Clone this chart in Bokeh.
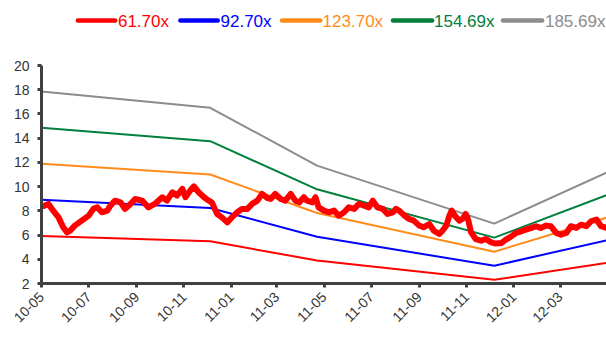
from math import pi

import pandas as pd
from bokeh.core.properties import value
from bokeh.embed import file_html
from bokeh.layouts import column
from bokeh.models import (ColumnDataSource, DatetimeTickFormatter, FixedTicker,
                          MonthsTicker, Range1d)
from bokeh.plotting import figure
from bokeh.resources import INLINE

# PE multiples that define the band lines
multiples = [61.70, 92.70, 123.70, 154.69, 185.69]
band_labels = ["61.70x", "92.70x", "123.70x", "154.69x", "185.69x"]
band_colors = ["#FF0000", "#0000FF", "#FF8C1A", "#00803C", "#8C8C8C"]

# Rolling EPS at the turning points of the bands
eps_dates = ["2010-05-01", "2010-12-05", "2011-04-22", "2011-12-07", "2012-05-01"]
eps_values = [0.0961, 0.0889, 0.0632, 0.0374, 0.0602]

# Share price
price_dates = [
    "2010-05-04", "2010-05-10", "2010-05-16", "2010-05-23", "2010-05-29", "2010-06-03",
    "2010-06-07", "2010-06-13", "2010-06-22", "2010-07-01", "2010-07-07", "2010-07-12",
    "2010-07-18", "2010-07-25", "2010-07-29", "2010-08-04", "2010-08-11", "2010-08-17",
    "2010-08-24", "2010-08-30", "2010-09-08", "2010-09-16", "2010-09-25", "2010-10-04",
    "2010-10-10", "2010-10-17", "2010-10-23", "2010-10-30", "2010-11-03", "2010-11-09",
    "2010-11-14", "2010-11-20", "2010-11-27", "2010-12-03", "2010-12-07", "2010-12-14",
    "2010-12-20", "2010-12-27", "2011-01-02", "2011-01-09", "2011-01-15", "2011-01-22",
    "2011-01-28", "2011-02-04", "2011-02-10", "2011-02-17", "2011-02-21", "2011-02-27",
    "2011-03-06", "2011-03-12", "2011-03-19", "2011-03-25", "2011-03-30", "2011-04-05",
    "2011-04-09", "2011-04-16", "2011-04-20", "2011-04-24", "2011-05-01", "2011-05-07",
    "2011-05-14", "2011-05-20", "2011-05-27", "2011-06-02", "2011-06-09", "2011-06-15",
    "2011-06-22", "2011-06-28", "2011-07-03", "2011-07-09", "2011-07-16", "2011-07-22",
    "2011-07-29", "2011-08-02", "2011-08-06", "2011-08-13", "2011-08-19", "2011-08-25",
    "2011-09-01", "2011-09-07", "2011-09-14", "2011-09-20", "2011-09-27", "2011-10-01",
    "2011-10-06", "2011-10-10", "2011-10-13", "2011-10-17", "2011-10-23", "2011-10-27",
    "2011-10-31", "2011-11-03", "2011-11-07", "2011-11-13", "2011-11-20", "2011-11-26",
    "2011-12-03", "2011-12-09", "2011-12-16", "2011-12-22", "2011-12-29", "2012-01-04",
    "2012-01-11", "2012-01-17", "2012-01-24", "2012-01-30", "2012-02-05", "2012-02-12",
    "2012-02-18", "2012-02-25", "2012-03-02", "2012-03-09", "2012-03-15", "2012-03-22",
    "2012-03-28", "2012-04-04", "2012-04-10", "2012-04-17", "2012-04-23", "2012-04-30",
]
price_values = [
    8.40, 8.57, 8.02, 7.46, 6.64, 6.22,
    6.36, 6.78, 7.19, 7.60, 8.16, 8.29,
    7.88, 8.02, 8.43, 8.84, 8.70, 8.16,
    8.57, 8.98, 8.84, 8.29, 8.60, 9.12,
    8.84, 9.53, 9.26, 9.81, 9.12, 9.67,
    10.02, 9.53, 9.12, 8.84, 8.70, 7.74,
    7.46, 7.05, 7.46, 7.88, 8.16, 8.16,
    8.57, 8.84, 9.40, 9.05, 8.98, 9.40,
    8.98, 8.84, 9.40, 8.84, 8.70, 9.12,
    8.84, 8.70, 9.12, 8.29, 8.02, 7.88,
    8.02, 7.60, 7.88, 8.29, 8.16, 8.57,
    8.43, 8.29, 8.84, 8.29, 8.16, 7.74,
    7.88, 8.16, 8.02, 7.60, 7.33, 7.19,
    6.78, 6.64, 6.91, 6.36, 6.09, 6.36,
    6.78, 7.60, 8.02, 7.60, 7.19, 7.33,
    7.74, 7.33, 6.22, 5.67, 5.53, 5.67,
    5.40, 5.30, 5.34, 5.62, 5.89, 6.17,
    6.31, 6.45, 6.59, 6.73, 6.59, 6.78,
    6.73, 6.17, 6.03, 6.17, 6.73, 6.59,
    6.86, 6.73, 7.14, 7.28, 6.73, 6.59,
]

y_ticks = [2, 4, 6, 8, 10, 12, 14, 16, 18, 20]
x_start, x_end = "2010-05-01", "2012-04-30"

AXIS = "#404040"
LABEL = "#333333"
FONT = "Liberation Sans"

# ---- main chart ----
p = figure(
    x_axis_type="datetime",
    frame_width=565, frame_height=218,
    min_border_left=41, min_border_right=0, min_border_top=8, min_border_bottom=61,
    x_range=Range1d(pd.Timestamp(x_start), pd.Timestamp(x_end)),
    y_range=Range1d(y_ticks[0], y_ticks[-1]),
    output_backend="svg", toolbar_location=None,
)
p.outline_line_color = None
p.xgrid.visible = False
p.ygrid.visible = False
p.background_fill_color = "white"
p.border_fill_color = "white"

eps_dt = pd.to_datetime(eps_dates)
for m, c in zip(multiples, band_colors):
    p.line(eps_dt, [m * e for e in eps_values], line_color=c, line_width=2)

price = ColumnDataSource(dict(x=pd.to_datetime(price_dates), y=price_values))
p.line("x", "y", source=price, line_color="#FF0000", line_width=6,
       line_join="round", line_cap="round")

for ax in (p.xaxis[0], p.yaxis[0]):
    ax.axis_line_color = AXIS
    ax.axis_line_width = 3
    ax.major_tick_line_color = AXIS
    ax.major_tick_line_width = 3
    ax.major_tick_in = 0
    ax.major_tick_out = 4
    ax.minor_tick_line_color = None
    ax.major_label_text_color = LABEL
    ax.major_label_text_font = FONT

p.yaxis.ticker = FixedTicker(ticks=y_ticks)
p.yaxis.major_label_text_font_size = "14px"
p.yaxis.major_label_standoff = 8

p.xaxis.ticker = MonthsTicker(months=[0, 2, 4, 6, 8, 10])
fmt = "%y-%m"
p.xaxis.formatter = DatetimeTickFormatter(
    days=fmt, months=fmt, years=fmt, hours=fmt, minutes=fmt,
)
p.xaxis.major_label_orientation = pi / 4
p.xaxis.major_label_text_font_size = "14px"
p.xaxis.major_label_standoff = 7

# ---- legend strip ----
lg = figure(
    width=606, height=57,
    x_range=Range1d(0, 606), y_range=Range1d(57, 0),
    min_border=0, output_backend="svg", toolbar_location=None,
)
lg.axis.visible = False
lg.grid.visible = False
lg.outline_line_color = None

seg_x0 = [39, 149, 258, 377, 495]
seg_x1 = [79, 189, 299, 419, 537]
txt_x = [82, 192, 301.5, 421, 540]
lg.segment(x0=seg_x0, y0=[20] * 5, x1=seg_x1, y1=[20] * 5,
           line_color=band_colors, line_width=4.5, line_cap="round")
lg.text(x=txt_x, y=[21] * 5, text=band_labels, text_color=band_colors,
        text_font=value(FONT), text_font_size="17px",
        text_baseline="middle", text_align="left")

layout = column(lg, p, spacing=0)
open("out.html", "w").write(file_html(layout, INLINE))
